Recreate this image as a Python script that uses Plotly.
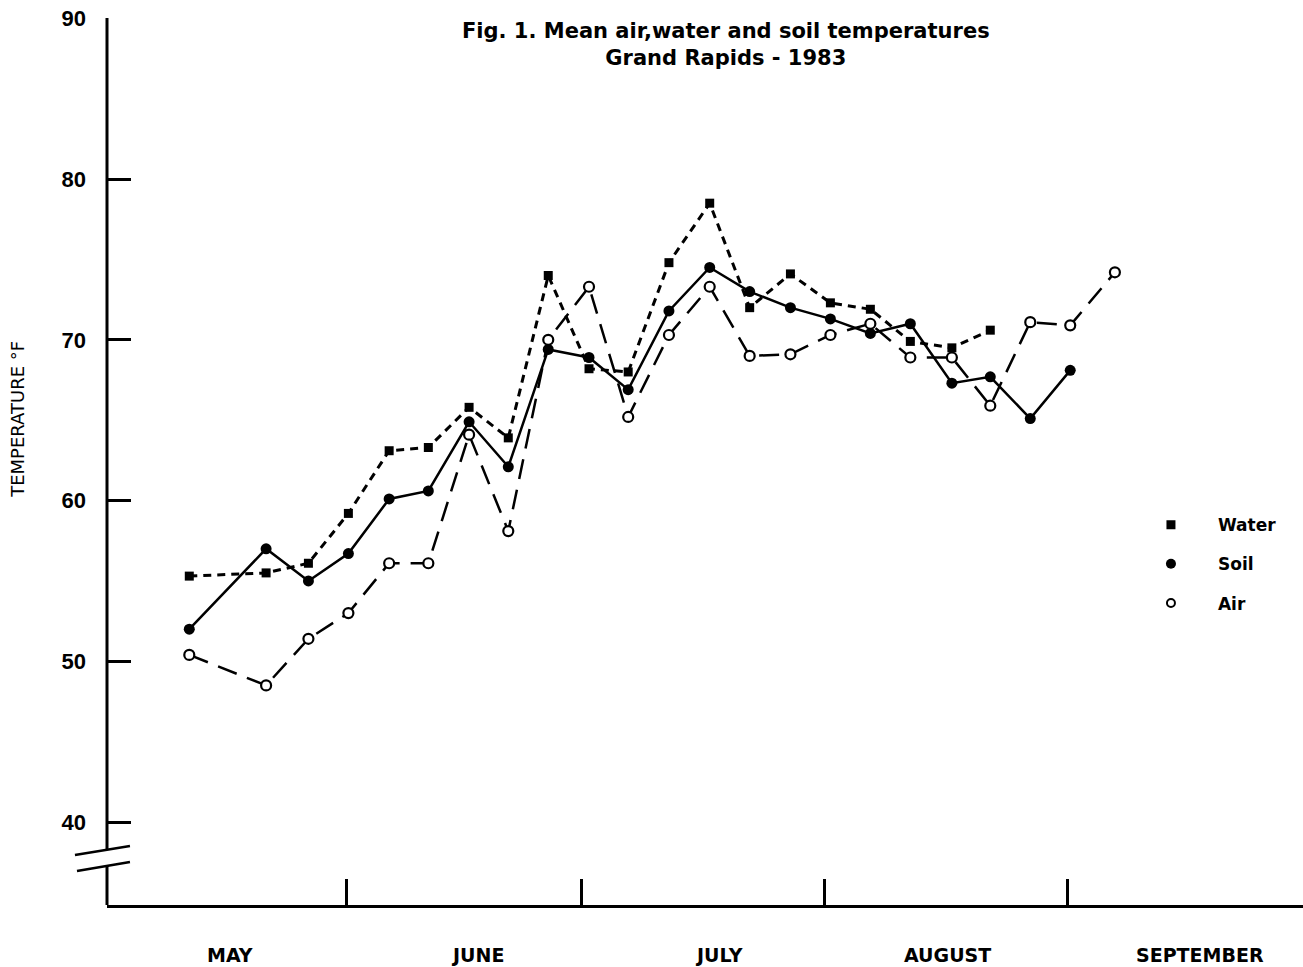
import plotly.graph_objects as go

# ---- data (days counted from May 1 = 0) ----
sample_day = [11.0, 20.8, 26.2, 31.3, 36.5, 41.5, 46.7, 51.7, 56.8, 62.0, 67.0, 72.2,
              77.4, 82.5, 87.7, 92.8, 97.9, 103.0, 108.3, 113.2, 118.3, 123.4, 129.1]
water = [55.3, 55.5, 56.1, 59.2, 63.1, 63.3, 65.8, 63.9, 74.0, 68.2, 68.0, 74.8,
         78.5, 72.0, 74.1, 72.3, 71.9, 69.9, 69.5, 70.6, None, None, None]
soil = [52.0, 57.0, 55.0, 56.7, 60.1, 60.6, 64.9, 62.1, 69.4, 68.9, 66.9, 71.8,
        74.5, 73.0, 72.0, 71.3, 70.4, 71.0, 67.3, 67.7, 65.1, 68.1, None]
air = [50.4, 48.5, 51.4, 53.0, 56.1, 56.1, 64.1, 58.1, 70.0, 73.3, 65.2, 70.3,
       73.3, 69.0, 69.1, 70.3, 71.0, 68.9, 68.9, 65.9, 71.1, 70.9, 74.2]

month_start_days = [31, 61, 92, 123]
month_names = ["MAY", "JUNE", "JULY", "AUGUST", "SEPTEMBER"]
month_label_days = [16.2, 47.8, 78.6, 107.7, 140.0]
y_ticks = [40, 50, 60, 70, 80, 90]

WIDE = "DejaVu Sans, Verdana, sans-serif"
ARIAL = "Liberation Sans, Arial, sans-serif"

fig = go.Figure()

fig.add_trace(go.Scatter(
    x=sample_day, y=water, mode="lines+markers", name="Water", showlegend=False,
    line=dict(color="black", width=3, dash="8px,6px"),
    marker=dict(symbol="square", size=9, color="black"), connectgaps=False))
fig.add_trace(go.Scatter(
    x=sample_day, y=soil, mode="lines+markers", name="Soil", showlegend=False,
    line=dict(color="black", width=2.5),
    marker=dict(symbol="circle", size=11, color="black"), connectgaps=False))
fig.add_trace(go.Scatter(
    x=sample_day, y=air, mode="lines+markers", name="Air", showlegend=False,
    line=dict(color="black", width=2.5, dash="20px,11px"),
    marker=dict(symbol="circle", size=10, color="white", line=dict(color="black", width=2.2)),
    connectgaps=False))

# legend-only traces (markers only)
fig.add_trace(go.Scatter(x=[None], y=[None], mode="markers", name="Water", legendgroup="a",
                         marker=dict(symbol="square", size=9, color="black")))
fig.add_trace(go.Scatter(x=[None], y=[None], mode="markers", name="Soil", legendgroup="b",
                         marker=dict(symbol="circle", size=10, color="black")))
fig.add_trace(go.Scatter(x=[None], y=[None], mode="markers", name="Air", legendgroup="c",
                         marker=dict(symbol="circle", size=8, color="white",
                                     line=dict(color="black", width=2))))

annotations = []
for name, d in zip(month_names, month_label_days):
    annotations.append(dict(x=d, y=-0.0564, xref="x", yref="paper", text=name, showarrow=False,
                            font=dict(family=WIDE, size=19, color="black", weight="bold"),
                            xanchor="center", yanchor="middle"))
annotations.append(dict(x=0.5176, y=0.9696, xref="paper", yref="paper",
                        text="Fig. 1. Mean air,water and soil temperatures<br>Grand Rapids - 1983",
                        showarrow=False, align="center",
                        font=dict(family=WIDE, size=21, color="black", weight="bold"),
                        xanchor="center", yanchor="middle"))
annotations.append(dict(x=-0.0744, y=0.547, xref="paper", yref="paper", text="TEMPERATURE °F",
                        textangle=-90, showarrow=False,
                        font=dict(family=WIDE, size=18, color="black"),
                        xanchor="center", yanchor="middle"))

line_style = dict(color="black", width=3)
shapes = [
    dict(type="line", xref="paper", yref="paper", x0=0, x1=0, y0=1, y1=0.062, line=line_style),
    dict(type="line", xref="paper", yref="paper", x0=0, x1=0, y0=0.044, y1=0, line=line_style),
    dict(type="line", xref="paper", yref="paper", x0=-0.0268, x1=0.0192, y0=0.0564, y1=0.0665,
         line=dict(color="black", width=2.5)),
    dict(type="line", xref="paper", yref="paper", x0=-0.0251, x1=0.0192, y0=0.0383, y1=0.0485,
         line=dict(color="black", width=2.5)),
]

fig.update_layout(
    width=1303, height=967,
    margin=dict(l=107, r=0, t=18, b=62),
    paper_bgcolor="white", plot_bgcolor="white",
    font=dict(family=ARIAL, color="black"),
    annotations=annotations, shapes=shapes,
    showlegend=True,
    legend=dict(x=0.8503, y=0.4485, xanchor="left", yanchor="top",
                font=dict(family=WIDE, size=17, color="black", weight="bold"),
                itemwidth=84, tracegroupgap=14, bgcolor="rgba(0,0,0,0)"),
    xaxis=dict(range=[0.5, 153.1], showgrid=False, zeroline=False,
               showline=True, linecolor="black", linewidth=3,
               tickmode="array", tickvals=month_start_days, ticktext=[""] * len(month_start_days),
               ticks="inside", ticklen=26, tickwidth=2.5, tickcolor="black"),
    yaxis=dict(range=[34.84, 90.02], showgrid=False, zeroline=False, showline=False,
               tickmode="array", tickvals=y_ticks, ticktext=[str(v) for v in y_ticks],
               ticks="inside", ticklen=24, tickwidth=2.5, tickcolor="black",
               ticklabelstandoff=20,
               tickfont=dict(family=ARIAL, size=22, color="black", weight="bold")),
)

fig.write_html("out.html")
